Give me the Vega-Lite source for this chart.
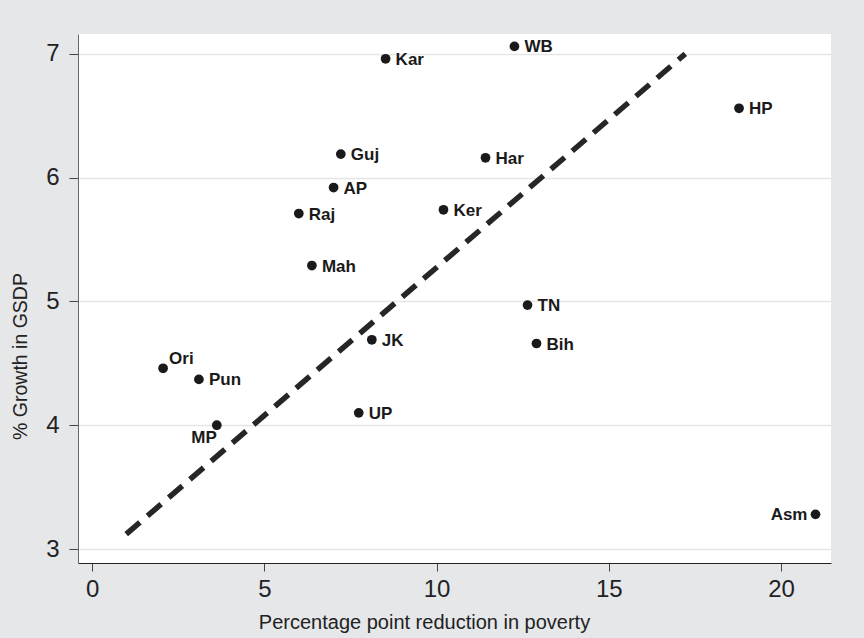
{
  "$schema": "https://vega.github.io/schema/vega-lite/v6.json",
  "width": 753,
  "height": 529,
  "autosize": {"type": "none"},
  "padding": {"left": 78, "top": 34, "right": 33, "bottom": 75},
  "background": "#e6e7e9",
  "view": {"fill": "#ffffff", "stroke": null},
  "config": {
    "font": "Liberation Sans",
    "axis": {
      "labelFont": "Liberation Sans",
      "titleFont": "Liberation Sans",
      "labelColor": "#222222",
      "titleColor": "#222222",
      "titleFontWeight": "normal",
      "domainColor": "#666666",
      "tickColor": "#444444",
      "gridColor": "#e6e6e6",
      "gridWidth": 1.5
    }
  },
  "datasets": {
    "states": [
      {"state": "Kar", "reduction": 8.52, "growth": 6.96},
      {"state": "WB", "reduction": 12.26, "growth": 7.06},
      {"state": "HP", "reduction": 18.78, "growth": 6.56},
      {"state": "Guj", "reduction": 7.22, "growth": 6.19},
      {"state": "Har", "reduction": 11.42, "growth": 6.16},
      {"state": "AP", "reduction": 7.01, "growth": 5.92},
      {"state": "Raj", "reduction": 6.0, "growth": 5.71},
      {"state": "Ker", "reduction": 10.2, "growth": 5.74},
      {"state": "Mah", "reduction": 6.38, "growth": 5.29},
      {"state": "TN", "reduction": 12.64, "growth": 4.97},
      {"state": "JK", "reduction": 8.12, "growth": 4.69},
      {"state": "Bih", "reduction": 12.9, "growth": 4.66},
      {"state": "Ori", "reduction": 2.06, "growth": 4.46},
      {"state": "Pun", "reduction": 3.1, "growth": 4.37},
      {"state": "MP", "reduction": 3.62, "growth": 4.0},
      {"state": "UP", "reduction": 7.74, "growth": 4.1},
      {"state": "Asm", "reduction": 21.0, "growth": 3.28}
    ],
    "fit": [
      {"reduction": 0.99, "growth": 3.12},
      {"reduction": 17.22, "growth": 7.0}
    ]
  },
  "encoding": {
    "x": {
      "field": "reduction",
      "type": "quantitative",
      "scale": {"domain": [-0.41, 21.45], "nice": false, "zero": false},
      "axis": {
        "title": "Percentage point reduction in poverty",
        "values": [0, 5, 10, 15, 20],
        "grid": false,
        "labelFontSize": 24,
        "titleFontSize": 20,
        "tickSize": 8,
        "labelPadding": 6,
        "titleX": 346,
        "titleY": 65,
        "titleAlign": "center",
        "titleBaseline": "alphabetic",
        "domainColor": "#222222"
      }
    },
    "y": {
      "field": "growth",
      "type": "quantitative",
      "scale": {"domain": [2.887, 7.16], "nice": false, "zero": false},
      "axis": {
        "title": "% Growth in GSDP",
        "values": [3, 4, 5, 6, 7],
        "grid": true,
        "labelFontSize": 24,
        "titleFontSize": 19.5,
        "tickSize": 9,
        "labelPadding": 10,
        "titleX": -52,
        "titleY": 322,
        "titleAlign": "center",
        "titleBaseline": "alphabetic",
        "titleAngle": -90
      }
    }
  },
  "layer": [
    {
      "data": {"name": "fit"},
      "mark": {"type": "line", "color": "#262626", "strokeWidth": 5.5, "strokeDash": [18, 10]}
    },
    {
      "data": {"name": "states"},
      "mark": {"type": "circle", "size": 95, "color": "#1a1a1a", "opacity": 1}
    },
    {
      "data": {"name": "states"},
      "transform": [{"filter": "datum.state != 'Ori' && datum.state != 'MP' && datum.state != 'Asm'"}],
      "mark": {"type": "text", "align": "left", "baseline": "middle", "dx": 10, "dy": 1, "fontSize": 17, "fontWeight": "bold", "color": "#1a1a1a"},
      "encoding": {"text": {"field": "state"}}
    },
    {
      "data": {"name": "states"},
      "transform": [{"filter": "datum.state == 'Ori'"}],
      "mark": {"type": "text", "align": "left", "baseline": "middle", "dx": 6, "dy": -9, "fontSize": 17, "fontWeight": "bold", "color": "#1a1a1a"},
      "encoding": {"text": {"field": "state"}}
    },
    {
      "data": {"name": "states"},
      "transform": [{"filter": "datum.state == 'MP'"}],
      "mark": {"type": "text", "align": "right", "baseline": "middle", "dx": 0, "dy": 13, "fontSize": 17, "fontWeight": "bold", "color": "#1a1a1a"},
      "encoding": {"text": {"field": "state"}}
    },
    {
      "data": {"name": "states"},
      "transform": [{"filter": "datum.state == 'Asm'"}],
      "mark": {"type": "text", "align": "right", "baseline": "middle", "dx": -8, "dy": 1, "fontSize": 17, "fontWeight": "bold", "color": "#1a1a1a"},
      "encoding": {"text": {"field": "state"}}
    }
  ]
}
